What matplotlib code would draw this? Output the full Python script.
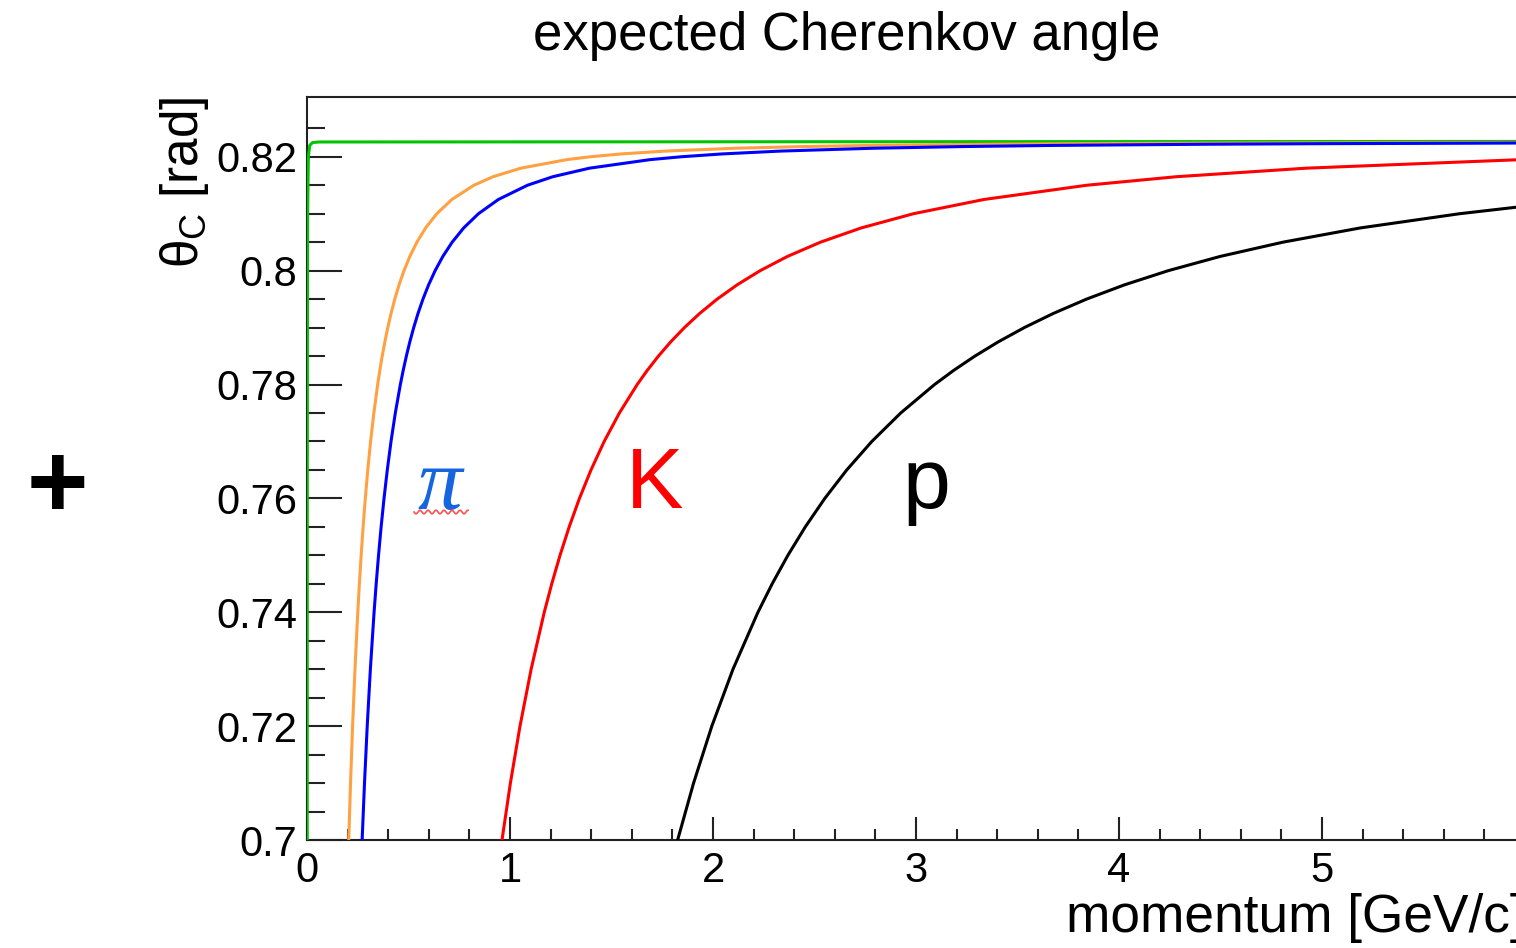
import numpy as np
import matplotlib
matplotlib.use('Agg')
import matplotlib.pyplot as plt
from matplotlib.lines import Line2D
from matplotlib.ticker import MultipleLocator, FixedLocator, FuncFormatter

# Cherenkov angle [rad] grid and momentum [GeV/c]
theta_grid = [0.70, 0.71, 0.72, 0.73, 0.74, 0.745, 0.75, 0.755, 0.76, 0.765,
              0.77, 0.775, 0.78, 0.7825, 0.785, 0.7875, 0.79, 0.7925, 0.795, 0.7975,
              0.80, 0.8025, 0.805, 0.8075, 0.81, 0.8125, 0.815, 0.8165, 0.818, 0.8195,
              0.82, 0.8205, 0.821, 0.8215, 0.8218, 0.822, 0.8222, 0.8223, 0.8224, 0.8225]

e_p = [0.00099, 0.0014, 0.0023, 0.0031, 0.0067, 0.0135, 0.0273, 0.06, 6.0]
e_theta = [0.70, 0.76, 0.80, 0.81, 0.82, 0.822, 0.8225, 0.8226, 0.8227]

mu_p = [0.20560, 0.21445, 0.22457, 0.23631, 0.25014, 0.25805, 0.26676, 0.27643, 0.28724, 0.29943,
        0.31333, 0.32936, 0.34813, 0.35881, 0.37055, 0.38350, 0.39793, 0.41411, 0.43244, 0.45342,
        0.47780, 0.50660, 0.54136, 0.58425, 0.63939, 0.71367, 0.82207, 0.91667, 1.05360, 1.27963,
        1.39482, 1.54781, 1.76516, 2.11066, 2.45057, 2.79259, 3.34794, 3.77840, 4.44089, 5.64753,
        6.0]
mu_theta = theta_grid + [0.82252]

pi_p = [0.27159, 0.28327, 0.29664, 0.31216, 0.33042, 0.34087, 0.35238, 0.36515, 0.37942, 0.39553,
        0.41388, 0.43506, 0.45986, 0.47397, 0.48947, 0.50658, 0.52563, 0.54701, 0.57122, 0.59894,
        0.63115, 0.66918, 0.71509, 0.77176, 0.84460, 0.94271, 1.08590, 1.21087, 1.39174, 1.69030,
        1.84246, 2.04456, 2.33166, 2.78805, 3.23705, 3.68884, 4.42242, 4.99102, 5.86613,
        6.0]
pi_theta = theta_grid[:39] + [0.82242]

k_p = [0.96066, 1.00197, 1.04927, 1.10413, 1.16876, 1.20570, 1.24641, 1.29158, 1.34209, 1.39905,
       1.46396, 1.53886, 1.62658, 1.67648, 1.73132, 1.79185, 1.85923, 1.93485, 2.02051, 2.11854,
       2.23247, 2.36698, 2.52939, 2.72984, 2.98746, 3.33451, 3.84098, 4.28300, 4.92278, 5.97886,
       6.0]
k_theta = theta_grid[:30] + [0.81953]

p_p = [1.82579, 1.90431, 1.99421, 2.09847, 2.22131, 2.29151, 2.36889, 2.45474, 2.55073, 2.65898,
       2.78236, 2.92471, 3.09142, 3.18626, 3.29047, 3.40553, 3.53359, 3.67730, 3.84010, 4.02643,
       4.24294, 4.49860, 4.80727, 5.18823, 5.67785,
       6.0]
p_theta = theta_grid[:25] + [0.81132]

W, H = 1516, 948

plt.rcParams['font.family'] = ['Liberation Sans', 'DejaVu Sans']
plt.rcParams['mathtext.fontset'] = 'custom'
plt.rcParams['mathtext.rm'] = 'Liberation Sans'
plt.rcParams['mathtext.it'] = 'Liberation Sans'

fig = plt.figure(figsize=(W / 100, H / 100), dpi=100)
ax = fig.add_axes([307 / W, 108 / H, 1218 / W, 743 / H])

#曲線
ax.plot(e_p, e_theta, color='#00c400', lw=2.2, zorder=3)
ax.plot(mu_p, mu_theta, color='#ffa042', lw=2.2, zorder=3)
ax.plot(pi_p, pi_theta, color='#0000ff', lw=2.2, zorder=3)
ax.plot(k_p, k_theta, color='#ff0000', lw=2.2, zorder=3)
ax.plot(p_p, p_theta, color='#000000', lw=2.2, zorder=3)

ax.set_xlim(0, 6)
ax.set_ylim(0.7, 0.8305)

#軸
for s in ax.spines.values():
    s.set_linewidth(1.5)
    s.set_color('#222222')

ax.xaxis.set_major_locator(MultipleLocator(1))
ax.xaxis.set_minor_locator(MultipleLocator(0.2))
ax.yaxis.set_major_locator(MultipleLocator(0.02))
ax.yaxis.set_minor_locator(FixedLocator([v for v in np.arange(0.705, 0.826, 0.005)
                                         if abs(v / 0.02 - round(v / 0.02)) > 0.01]))
fmt = FuncFormatter(lambda v, pos: '%g' % round(v, 3))
ax.xaxis.set_major_formatter(fmt)
ax.yaxis.set_major_formatter(fmt)

ax.tick_params(which='both', direction='in', top=False, right=False, color='#222222')
ax.tick_params(axis='y', which='major', length=25, width=1.5, pad=7, labelsize=30)
ax.tick_params(axis='y', which='minor', length=13, width=1.5)
ax.tick_params(axis='x', which='major', length=16.5, width=1.5, pad=8, labelsize=30)
ax.tick_params(axis='x', which='minor', length=8, width=1.5)

ax.set_xlabel('momentum [GeV/c]', fontsize=38.3, loc='right')
ax.xaxis.set_label_coords(1.0, -0.0713)
ax.set_ylabel(r'$\theta_{C}$ [rad]', fontsize=37, loc='top')
ax.yaxis.set_label_coords(-0.079, 1.0)

fig.text(847 / W, 1 - 50 / H, 'expected Cherenkov angle', fontsize=38,
         ha='center', va='baseline')

#粒子ラベル
ax.text(0.655, 0.7582, 'π', family=['Liberation Serif', 'DejaVu Serif'], style='italic',
        fontsize=64, color='#1565e0', ha='center', va='baseline')
ax.text(1.714, 0.7583, 'K', fontsize=62, color='#ff0000', ha='center', va='baseline')
ax.text(3.049, 0.7584, 'p', fontsize=62, color='#000000', ha='center', va='baseline')

# 赤い波線
sx = np.linspace(414, 468, 200)
sy = 512 + 1.8 * np.sin(2 * np.pi * (sx - 414) / 8)
fig.add_artist(Line2D(sx / W, 1 - sy / H, transform=fig.transFigure, color='#ff5050', lw=1.2))

fig.text(57 / W, 1 - 517 / H, '+', fontsize=76, fontweight='bold', ha='center', va='baseline')

fig.savefig('out.png', dpi=100)
